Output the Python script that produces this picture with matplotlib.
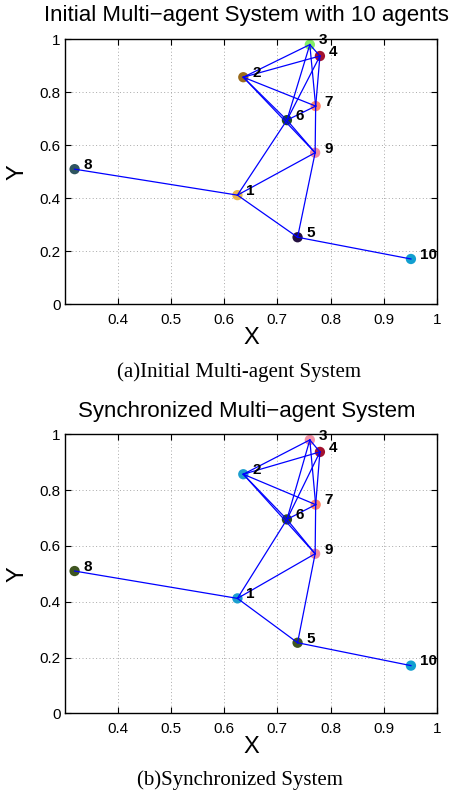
import matplotlib
matplotlib.use('Agg')
from matplotlib import pyplot as plt
import numpy as np

# agent positions (same in both panels)
agent_ids = [1, 2, 3, 4, 5, 6, 7, 8, 9, 10]
agent_x = [0.625, 0.636, 0.761, 0.780, 0.738, 0.718, 0.772, 0.319, 0.771, 0.951]
agent_y = [0.412, 0.857, 0.980, 0.937, 0.253, 0.695, 0.748, 0.510, 0.572, 0.171]

# communication links
edges = [(1, 8), (1, 6), (1, 9), (1, 5), (5, 9), (5, 10),
         (2, 3), (2, 4), (2, 7), (2, 6), (2, 9), (6, 9),
         (3, 4), (3, 6), (4, 6), (6, 7), (3, 7), (4, 7), (7, 9)]

# agent states shown as colours
initial_colors = ['#e8b64c', '#9a6b1c', '#84ee66', '#a3122e', '#24103f',
                  '#1f4a22', '#ff846c', '#2f5560', '#f08aa2', '#129fd0']
synced_colors = ['#1c9fcf', '#1c9fcf', '#f290a4', '#a3122e', '#3f5520',
                 '#2f4a22', '#ff846c', '#3f5520', '#f08aa2', '#129fd0']

titles = ['Initial Multi\u2212agent System with 10 agents',
          'Synchronized Multi\u2212agent System']
captions = ['(a)Initial Multi-agent System', '(b)Synchronized System']

xticks = [0.4, 0.5, 0.6, 0.7, 0.8, 0.9, 1.0]
xticklabels = ['0.4', '0.5', '0.6', '0.7', '0.8', '0.9', '1']
yticks = [0, 0.2, 0.4, 0.6, 0.8, 1.0]
yticklabels = ['0', '0.2', '0.4', '0.6', '0.8', '1']

plt.rcParams['font.family'] = ['Liberation Sans', 'DejaVu Sans']

fig = plt.figure(figsize=(4.65, 7.91), dpi=100)
positions = [[0.1398, 0.6153, 0.80, 0.335],
             [0.1398, 0.0982, 0.80, 0.3527]]
caption_y = [1 - 371.7 / 791, 1 - 780 / 791]
title_y = [1 - 15 / 791, 1 - 411 / 791]

for k in range(2):
    ax = fig.add_axes(positions[k])
    colors = initial_colors if k == 0 else synced_colors
    for a, b in edges:
        ax.plot([agent_x[a - 1], agent_x[b - 1]], [agent_y[a - 1], agent_y[b - 1]],
                color='#0000ff', lw=0.9, zorder=3)
    ax.scatter(agent_x, agent_y, s=55, c=colors, zorder=2, edgecolors='none')
    for i, lab in enumerate(agent_ids):
        ax.annotate(str(lab), (agent_x[i], agent_y[i]), xytext=(6.5, 3),
                    textcoords='offset points', ha='left', va='center',
                    fontsize=11, fontweight='bold', zorder=4)
    ax.set_xlim(0.301, 1)
    ax.set_ylim(0, 1)
    ax.set_xticks(xticks)
    ax.set_xticklabels(xticklabels)
    ax.set_yticks(yticks)
    ax.set_yticklabels(yticklabels)
    ax.tick_params(direction='in', labelsize=11, length=4, top=True, right=True,
                   labeltop=False, labelright=False)
    ax.tick_params(axis='x', pad=6)
    ax.tick_params(axis='y', pad=3)
    ax.grid(True, linestyle=(0, (1, 2.5)), color='#a8a8a8', lw=0.7)
    ax.set_axisbelow(True)
    for sp in ax.spines.values():
        sp.set_linewidth(1.0)
    ax.set_xlabel('X', fontsize=17, labelpad=0)
    ax.set_ylabel('Y', fontsize=17, labelpad=8, rotation=90)
    fig.text(0.53, title_y[k], titles[k], ha='center', va='center', fontsize=16)
    fig.text(0.515, caption_y[k], captions[k], ha='center', va='center',
             fontsize=15, family='Liberation Serif')

plt.savefig('out.png', dpi=100)
